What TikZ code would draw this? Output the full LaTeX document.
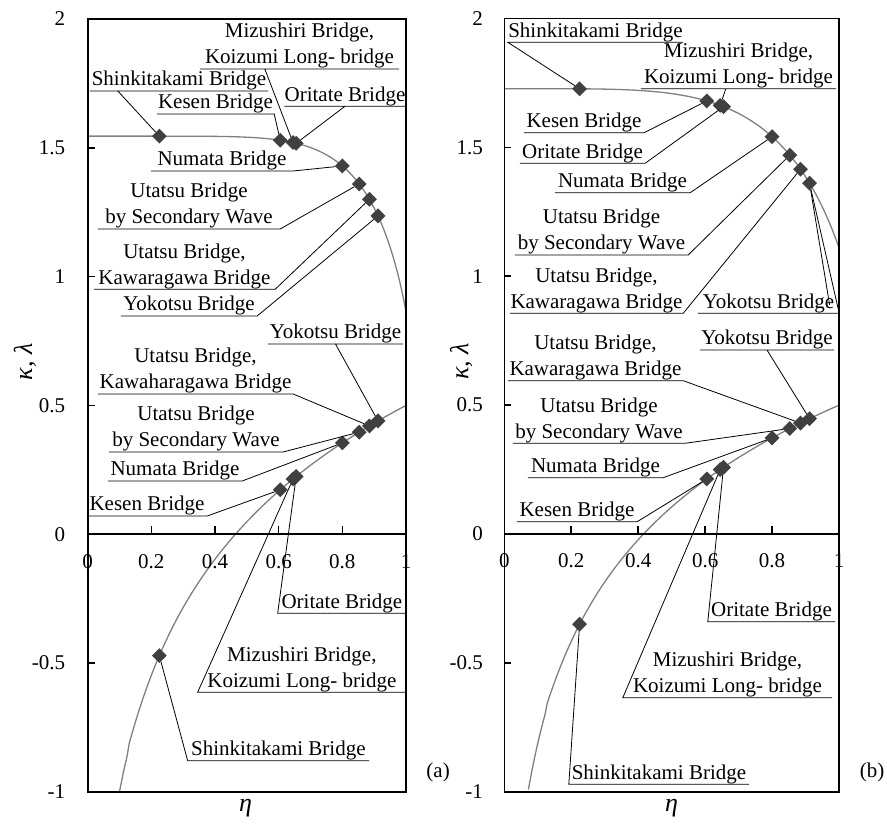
\documentclass[tikz,border=0pt]{standalone}
\usepackage{fontspec}
\setmainfont{Liberation Serif}
\usetikzlibrary{shapes.geometric}
\begin{document}
\begin{tikzpicture}[
  every node/.style={font=\fontsize{21}{26}\selectfont},
  axlabel/.style={font=\fontsize{26}{26}\selectfont\itshape},
  bridgept/.style={diamond,fill=black!75,inner sep=0pt,minimum width=15pt,minimum height=15pt},
  tag/.style={anchor=south,align=center,inner xsep=0pt,inner ysep=0.5pt,minimum width=#1},
  leader/.style={black,line width=0.8pt},
  curve/.style={black!50,line width=1.3pt},
  frame/.style={black,line width=1.6pt}]
\useasboundingbox (0,0) rectangle (887pt,823pt);
\begin{scope}[shift={(87.7pt,288.7pt)},x=318.3pt,y=257.7pt,
  declare function={ka(\t)=1.545*sqrt(1-0.687*\t^7); la(\t)=0.5+0.651*ln(\t);}]
  \draw[curve] plot[domain=0:1,samples=200] (\x,{ka(\x)});
  \draw[curve] plot[domain=0.0999:1,samples=150] (\x,{la(\x)});
  \draw[frame] (0,-1) rectangle (1,2);
  \draw[frame] (0,0) -- (1,0);
  \foreach \y in {2,1.5,1,0.5,0,-0.5,-1} {
    \draw[frame] (0,\y) -- ++(7pt,0);
    \node[anchor=east,xshift=-19pt] at (0,\y) {\y};
  }
  \foreach \x in {0.2,0.4,0.6,0.8} \draw[frame] (\x,0) -- ++(0,8pt);
  \foreach \x in {0,0.2,0.4,0.6,0.8,1} \node[yshift=-27pt] at (\x,0) {\x};
  \node[axlabel,rotate=90] (ayaxis) at (-0.197,0.67) {κ, λ};
  \node[axlabel] (axaxis) at (0.496,-1.062) {η};
  \node (apanel) at (1.101,-0.926) {(a)};
  \foreach \n/\e in {Shin/0.225,Kesen/0.605,Mizu/0.645,Ori/0.655,Numa/0.80,UtaSW/0.853,Uta/0.885,Yoko/0.912} {
    \node[bridgept] (aK\n) at (\e,{ka(\e)}) {};
    \node[bridgept] (aL\n) at (\e,{la(\e)}) {};
  }
  \node[tag=199pt] (aKMizuT) at (0.6654,1.8056) {Mizushiri Bridge,\\Koizumi Long- bridge};
  \node[tag=178pt] (aKShinT) at (0.2868,1.7202) {Shinkitakami Bridge};
  \node[tag=117pt] (aKKesenT) at (0.4015,1.631) {Kesen Bridge};
  \node[tag=118pt] (aKOriT) at (0.8084,1.661) {Oritate Bridge};
  \node[tag=142pt] (aKNumaT) at (0.4219,1.4098) {Numata Bridge};
  \node[tag=182pt] (aKUtaSWT) at (0.3183,1.1848) {Utatsu Bridge\\by Secondary Wave};
  \node[tag=181pt] (aKUtaT) at (0.3041,0.9508) {Utatsu Bridge,\\Kawaragawa Bridge};
  \node[tag=136pt] (aKYokoT) at (0.3183,0.8471) {Yokotsu Bridge};
  \node[tag=135pt] (aLYokoT) at (0.7785,0.7384) {Yokotsu Bridge};
  \node[tag=195pt] (aLUtaT) at (0.3387,0.5444) {Utatsu Bridge,\\Kawaharagawa Bridge};
  \node[tag=174pt] (aLUtaSWT) at (0.3402,0.3194) {Utatsu Bridge\\by Secondary Wave};
  \node[tag=134pt] (aLNumaT) at (0.2743,0.2069) {Numata Bridge};
  \node[tag=120pt] (aLKesenT) at (0.1863,0.0710) {Kesen Bridge};
  \node[tag=128pt] (aLOriT) at (0.7985,-0.3066) {Oritate Bridge};
  \node[tag=208pt] (aLMizuT) at (0.6728,-0.6131) {Mizushiri Bridge,\\Koizumi Long- bridge};
  \node[tag=181pt] (aLShinT) at (0.599,-0.8785) {Shinkitakami Bridge};
  \draw[leader] (aKMizuT.south west) -- (aKMizuT.south east) ([xshift=65pt]aKMizuT.south west) -- (aKMizu);
  \draw[leader] (aKShinT.south west) -- (aKShinT.south east) ([xshift=28pt]aKShinT.south west) -- (aKShin);
  \draw[leader] (aKOriT.south west) -- (aKOriT.south east) (aKOriT.south) -- (aKOri);
  \draw[leader] (aLYokoT.south west) -- (aLYokoT.south east) (aLYokoT.south) -- (aLYoko);
  \foreach \n in {aKKesen,aKNuma,aKUtaSW,aKUta,aKYoko,aLUta,aLUtaSW,aLNuma,aLKesen}
    \draw[leader] (\n T.south west) -- (\n T.south east) -- (\n);
  \foreach \n in {aLOri,aLMizu,aLShin}
    \draw[leader] (\n T.south east) -- (\n T.south west) -- (\n);
\end{scope}
\begin{scope}[shift={(504.3pt,289pt)},x=334.7pt,y=257.7pt,
  declare function={kb(\t)=1.728*sqrt(1-0.587*exp(4.74*ln(\t))); lb(\t)=0.5+0.57*ln(\t);}]
  \draw[curve] (0,1.728) -- plot[domain=0.01:1,samples=200] (\x,{kb(\x)});
  \draw[curve] plot[domain=0.0720:1,samples=150] (\x,{lb(\x)});
  \draw[frame] (0,-1) rectangle (1,2);
  \draw[frame] (0,0) -- (1,0);
  \foreach \y in {2,1.5,1,0.5,0,-0.5,-1} {
    \draw[frame] (0,\y) -- ++(7pt,0);
    \node[anchor=east,xshift=-18pt] at (0,\y) {\y};
  }
  \foreach \x in {0.2,0.4,0.6,0.8} \draw[frame] (\x,0) -- ++(0,8pt);
  \foreach \x in {0,0.2,0.4,0.6,0.8,1} \node[yshift=-27pt] at (\x,0) {\x};
  \node[axlabel,rotate=90] (byaxis) at (-0.129,0.67) {κ, λ};
  \node[axlabel] (bxaxis) at (0.5,-1.062) {η};
  \node (bpanel) at (1.0986,-0.926) {(b)};
  \foreach \n/\e in {Shin/0.225,Kesen/0.605,Mizu/0.645,Ori/0.655,Numa/0.80,UtaSW/0.853,Uta/0.885,Yoko/0.912} {
    \node[bridgept] (bK\n) at (\e,{kb(\e)}) {};
    \node[bridgept] (bL\n) at (\e,{lb(\e)}) {};
  }
  \node[tag=175pt] (bKShinT) at (0.2725,1.908) {Shinkitakami Bridge};
  \node[tag=195pt] (bKMizuT) at (0.6997,1.728) {Mizushiri Bridge,\\Koizumi Long- bridge};
  \node[tag=120pt] (bKKesenT) at (0.2381,1.5573) {Kesen Bridge};
  \node[tag=125pt] (bKOriT) at (0.2336,1.4385) {Oritate Bridge};
  \node[tag=135pt] (bKNumaT) at (0.3532,1.3244) {Numata Bridge};
  \node[tag=173pt] (bKUtaSWT) at (0.2904,1.0827) {Utatsu Bridge\\by Secondary Wave};
  \node[tag=173pt] (bKUtaT) at (0.2755,0.8564) {Utatsu Bridge,\\Kawaragawa Bridge};
  \node[tag=141pt] (bKYokoT) at (0.7894,0.8564) {Yokotsu Bridge};
  \node[tag=134pt] (bLYokoT) at (0.7849,0.714) {Yokotsu Bridge};
  \node[tag=175pt] (bLUtaT) at (0.2725,0.5949) {Utatsu Bridge,\\Kawaragawa Bridge};
  \node[tag=172pt] (bLUtaSWT) at (0.2829,0.352) {Utatsu Bridge\\by Secondary Wave};
  \node[tag=135pt] (bLNumaT) at (0.2725,0.2185) {Numata Bridge};
  \node[tag=120pt] (bLKesenT) at (0.2172,0.0477) {Kesen Bridge};
  \node[tag=127pt] (bLOriT) at (0.7983,-0.3403) {Oritate Bridge};
  \node[tag=209pt] (bLMizuT) at (0.6669,-0.6352) {Mizushiri Bridge,\\Koizumi Long- bridge};
  \node[tag=180pt] (bLShinT) at (0.4622,-0.9713) {Shinkitakami Bridge};
  \coordinate (bKYokoEnd) at (0.972,0.889);
  \draw[leader] (bKShinT.south east) -- (bKShinT.south west) -- (bKShin);
  \draw[leader] (bKMizuT.south west) -- (bKMizuT.south east) ([xshift=85pt]bKMizuT.south west) -- (bKMizu);
  \draw[leader] (bLYokoT.south west) -- (bLYokoT.south east) (bLYokoT.south) -- (bLYoko);
  \draw[leader] (bKYokoEnd) -- (bKYoko);
  \foreach \n in {bKKesen,bKOri,bKNuma,bKUtaSW,bKUta,bKYoko,bLUta,bLUtaSW,bLNuma,bLKesen}
    \draw[leader] (\n T.south west) -- (\n T.south east) -- (\n);
  \foreach \n in {bLOri,bLMizu,bLShin}
    \draw[leader] (\n T.south east) -- (\n T.south west) -- (\n);
\end{scope}
\end{tikzpicture}
\end{document}
